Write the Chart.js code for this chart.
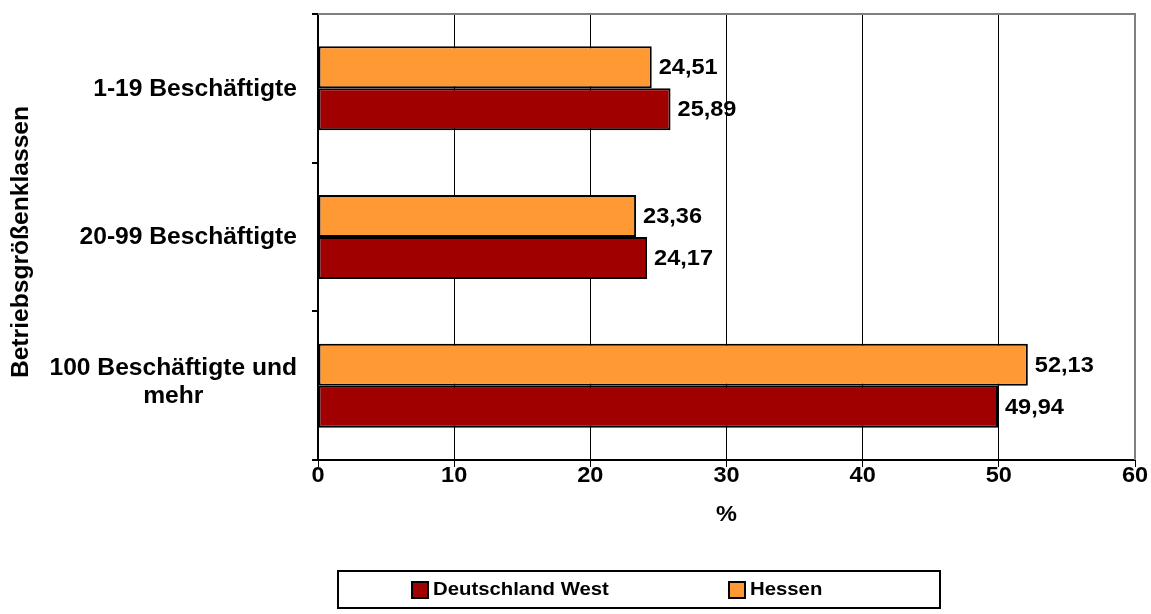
<!DOCTYPE html>
<html>
<head>
<meta charset="utf-8">
<script src="https://cdn.jsdelivr.net/npm/chart.js@4"></script>
<style>
html,body{margin:0;padding:0;background:#fff;}
#wrap{width:1151px;height:614px;position:relative;}
</style>
</head>
<body>
<div id="wrap"><canvas id="c" width="1151" height="614"></canvas></div>
<script>
const categories = [["1-19 Beschäftigte"], ["20-99 Beschäftigte"], ["100 Beschäftigte und", "mehr"]];
const hessenValues = [24.51, 23.36, 52.13];
const westValues = [25.89, 24.17, 49.94];
const seriesNames = ["Hessen", "Deutschland West"];
const legendOrder = ["Deutschland West", "Hessen"];
const xTicks = [0, 10, 20, 30, 40, 50, 60];
const yTitle = "Betriebsgrößenklassen";
const xTitle = "%";

const FONT = '"Liberation Sans", Arial, sans-serif';
const SX = 1.07;
const colors = {"Hessen": "#FF9933", "Deutschland West": "#A00000"};

function sText(ctx, txt, x, y, align, sx) {
  ctx.save();
  ctx.translate(x, y);
  ctx.scale(sx, 1);
  ctx.textAlign = align;
  ctx.textBaseline = 'middle';
  ctx.fillText(txt, 0, 0);
  ctx.restore();
}

const drawPlugin = {
  id: 'customDraw',
  beforeDatasetsDraw(chart) {
    const ctx = chart.ctx, a = chart.chartArea;
    ctx.save();
    ctx.strokeStyle = '#808080';
    ctx.lineWidth = 2;
    ctx.beginPath();
    ctx.moveTo(a.left, a.top);
    ctx.lineTo(a.right, a.top);
    ctx.lineTo(a.right, a.bottom);
    ctx.stroke();
    ctx.restore();
  },
  afterDraw(chart) {
    const ctx = chart.ctx, a = chart.chartArea;
    const ys = chart.scales.y, xs = chart.scales.x;
    ctx.save();
    ctx.fillStyle = '#000';
    // data labels
    ctx.font = 'bold 22px ' + FONT;
    chart.data.datasets.forEach((ds, di) => {
      const meta = chart.getDatasetMeta(di);
      meta.data.forEach((bar, i) => {
        const txt = ds.data[i].toFixed(2).replace('.', ',');
        sText(ctx, txt, bar.x + 7, bar.y + 1, 'left', SX);
      });
    });
    // x tick labels
    ctx.font = 'bold 22px ' + FONT;
    xTicks.forEach(v => {
      sText(ctx, String(v), xs.getPixelForValue(v), 476, 'center', SX);
    });
    // y category labels
    ctx.font = 'bold 23px ' + FONT;
    categories.forEach((lines, i) => {
      const yc = ys.getPixelForValue(i);
      const lh = 28;
      const maxW = Math.max(...lines.map(l => ctx.measureText(l).width)) * SX;
      const right = a.left - 21;
      const shift = lines.length > 1 ? -3 : 1;
      lines.forEach((l, j) => {
        const y = yc + (j - (lines.length - 1) / 2) * lh + shift;
        sText(ctx, l, right - maxW / 2, y, 'center', SX);
      });
    });
    // y title
    ctx.save();
    ctx.translate(22, (a.top + a.bottom) / 2 + 5);
    ctx.rotate(-Math.PI / 2);
    ctx.font = 'bold 23px ' + FONT;
    sText(ctx, yTitle, 0, 0, 'center', SX);
    ctx.restore();
    // x title
    ctx.font = 'bold 22px ' + FONT;
    sText(ctx, xTitle, (a.left + a.right) / 2, 515, 'center', SX);
    // legend
    const bx = 338, by = 571, bw = 602, bh = 37;
    ctx.strokeStyle = '#000';
    ctx.lineWidth = 2;
    ctx.strokeRect(bx, by, bw, bh);
    ctx.font = 'bold 19px ' + FONT;
    const items = [{name: legendOrder[0], x: 412}, {name: legendOrder[1], x: 729}];
    items.forEach(it => {
      ctx.fillStyle = colors[it.name];
      ctx.fillRect(it.x, by + 11, 16, 16);
      ctx.strokeStyle = '#000';
      ctx.lineWidth = 2;
      ctx.strokeRect(it.x, by + 11, 16, 16);
      ctx.fillStyle = '#000';
      sText(ctx, it.name, it.x + 21, by + 19, 'left', SX);
    });
    ctx.restore();
  }
};

new Chart(document.getElementById('c'), {
  type: 'bar',
  data: {
    labels: categories,
    datasets: [
      {label: seriesNames[0], data: hessenValues, backgroundColor: colors["Hessen"], borderColor: '#000', borderWidth: 2, borderSkipped: false, categoryPercentage: 0.565, barPercentage: 1},
      {label: seriesNames[1], data: westValues, backgroundColor: colors["Deutschland West"], borderColor: '#000', borderWidth: 2, borderSkipped: false, categoryPercentage: 0.565, barPercentage: 1}
    ]
  },
  options: {
    indexAxis: 'y',
    responsive: false,
    animation: false,
    devicePixelRatio: 1,
    layout: {padding: {left: 0, top: 14, right: 16, bottom: 0}},
    plugins: {legend: {display: false}, tooltip: {enabled: false}},
    scales: {
      x: {
        min: 0, max: 60,
        afterFit(s) { s.height = 154; },
        afterBuildTicks(s) { s.ticks = xTicks.map(v => ({value: v})); },
        border: {color: '#000', width: 2},
        grid: {
          color: ctx => (ctx.tick && ctx.tick.value === 60) ? '#808080' : '#000',
          lineWidth: 1, tickLength: 7, drawTicks: true,
          tickColor: '#000'
        },
        ticks: {display: false}
      },
      y: {
        afterFit(s) { s.width = 318; },
        border: {color: '#000', width: 2},
        grid: {drawOnChartArea: false, offset: true, tickLength: 6, tickColor: '#000', lineWidth: 2},
        ticks: {display: false}
      }
    }
  },
  plugins: [drawPlugin]
});
</script>
</body>
</html>
